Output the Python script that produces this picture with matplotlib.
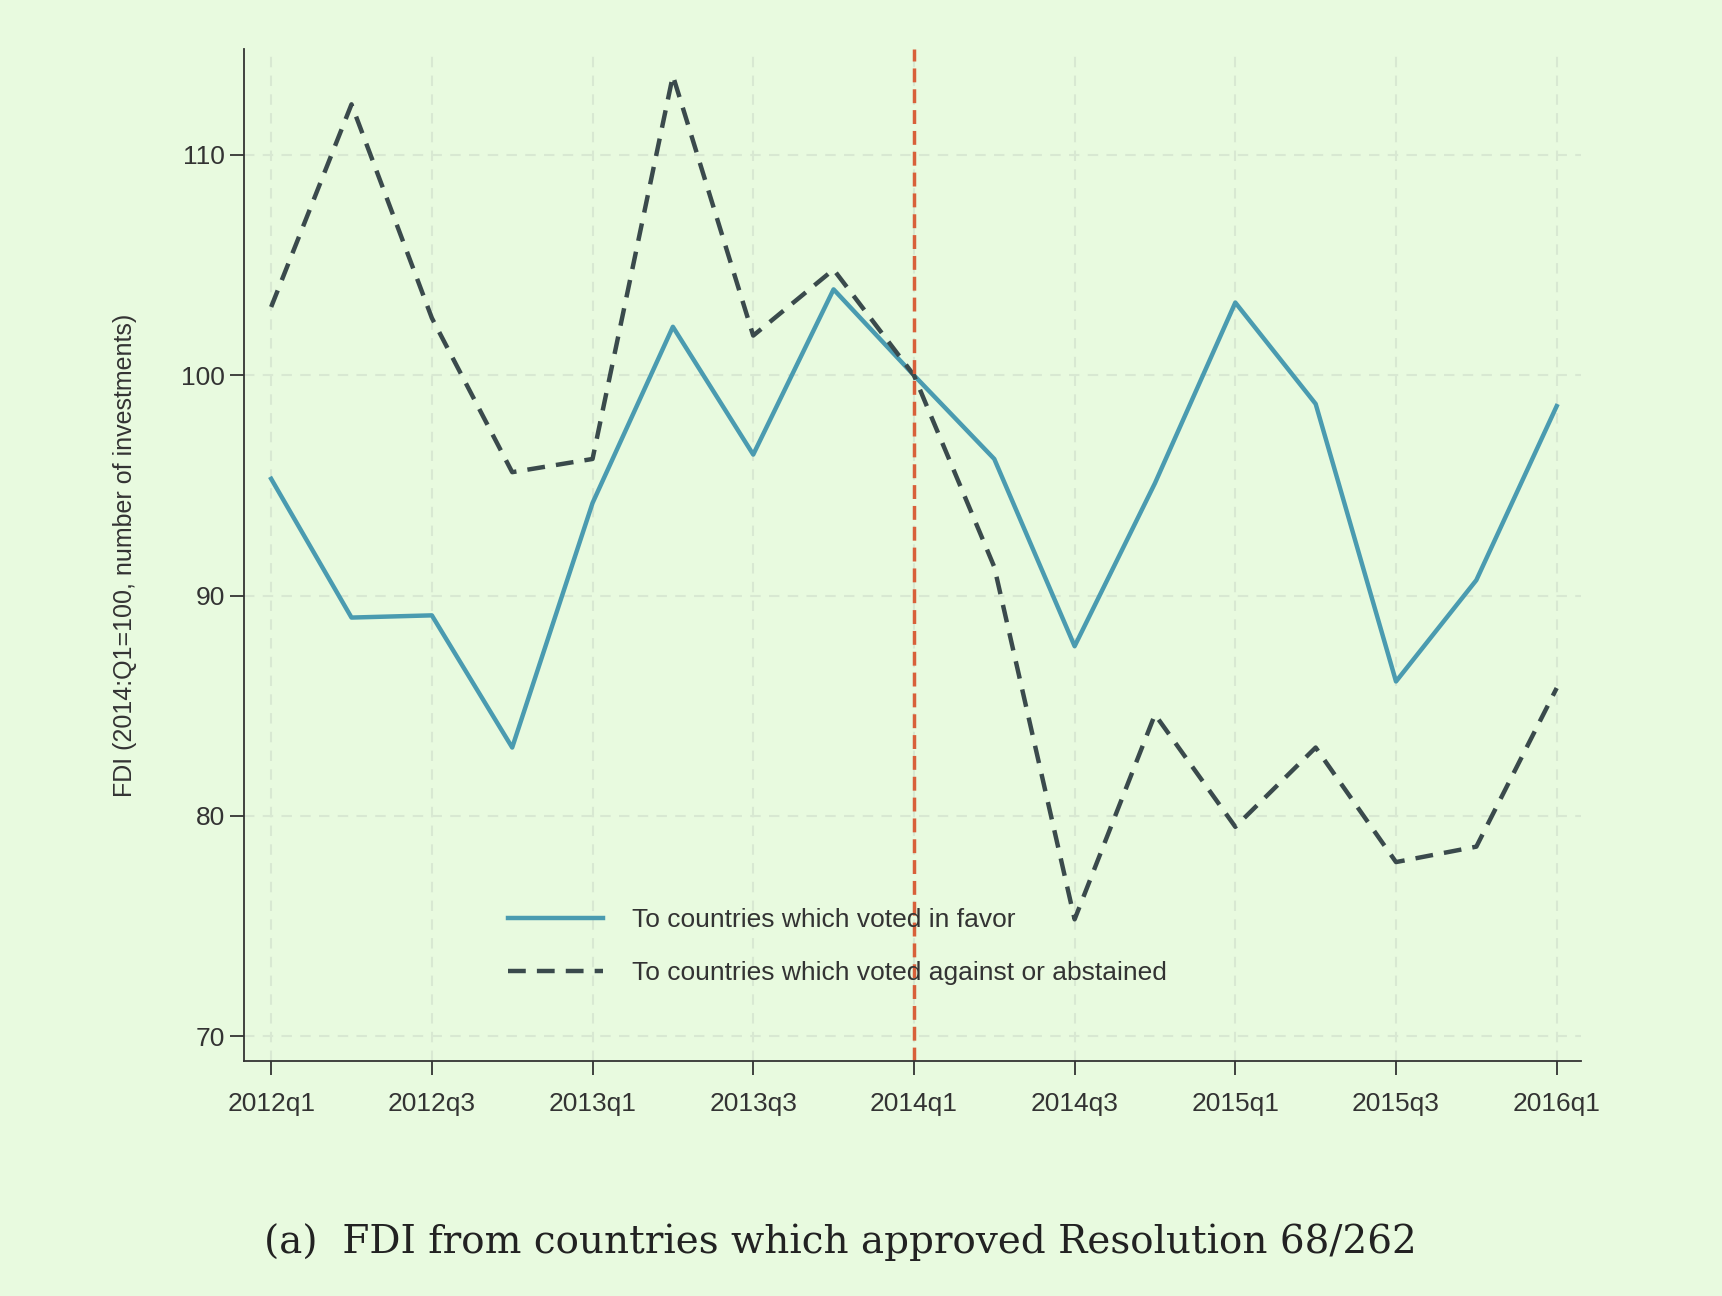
import matplotlib.pyplot as plt

# quarterly FDI index (2014:Q1 = 100)
quarters = ["2012q1", "2012q2", "2012q3", "2012q4", "2013q1", "2013q2", "2013q3", "2013q4",
            "2014q1", "2014q2", "2014q3", "2014q4", "2015q1", "2015q2", "2015q3", "2015q4", "2016q1"]
favor = [95.3, 89.0, 89.1, 83.1, 94.2, 102.2, 96.4, 103.9, 100.0, 96.2, 87.7, 95.1,
         103.3, 98.7, 86.1, 90.7, 98.6]
against = [103.1, 112.3, 102.6, 95.6, 96.2, 113.6, 101.8, 104.8, 100.0, 91.3, 75.3, 84.6,
           79.5, 83.1, 77.9, 78.6, 85.8]

plt.rcParams["font.family"] = ["Liberation Sans", "DejaVu Sans"]

bg = "#e8fadf"
fig = plt.figure(figsize=(17.22, 12.96), dpi=100, facecolor=bg)
ax = fig.add_axes([0.1416, 0.181, 0.7764, 0.781], facecolor=bg)

x = list(range(len(quarters)))
ax.plot(x, favor, color="#4a9bb0", lw=3.2, label="To countries which voted in favor")
ax.plot(x, against, color="#3a4a4c", lw=3.2, ls=(0, (4, 2.5)),
        label="To countries which voted against or abstained")
ax.axvline(8, color="#d8603a", lw=2.5, ls=(0, (4, 2)))

ax.set_xlim(-0.34, 16.3)
ax.set_ylim(68.85, 114.8)
ax.set_xticks(x[::2])
ax.set_xticklabels(quarters[::2])
ax.set_yticks([70, 80, 90, 100, 110])
ax.tick_params(labelsize=19, length=10, width=1.3, colors="#333333")
ax.tick_params(axis="x", pad=12)
ax.set_ylabel("FDI (2014:Q1=100, number of investments)", fontsize=18, color="#333333", labelpad=32)
ax.grid(True, color="#d8e8d2", ls=(0, (5, 4)), lw=1.5)
ax.set_axisbelow(True)
for s in ["top", "right"]:
    ax.spines[s].set_visible(False)
for s in ["left", "bottom"]:
    ax.spines[s].set_color("#333333")
    ax.spines[s].set_linewidth(1.3)

leg = ax.legend(loc="upper left", bbox_to_anchor=(0.18, 0.175), frameon=False,
                fontsize=19, handlelength=3.6, labelspacing=1.1, handletextpad=1.1)
for t in leg.get_texts():
    t.set_color("#333333")

fig.text(0.488, 0.042, "(a)  FDI from countries which approved Resolution 68/262",
         ha="center", va="center", family="serif", fontsize=28, color="#222222")

fig.savefig("out.png", facecolor=bg)
